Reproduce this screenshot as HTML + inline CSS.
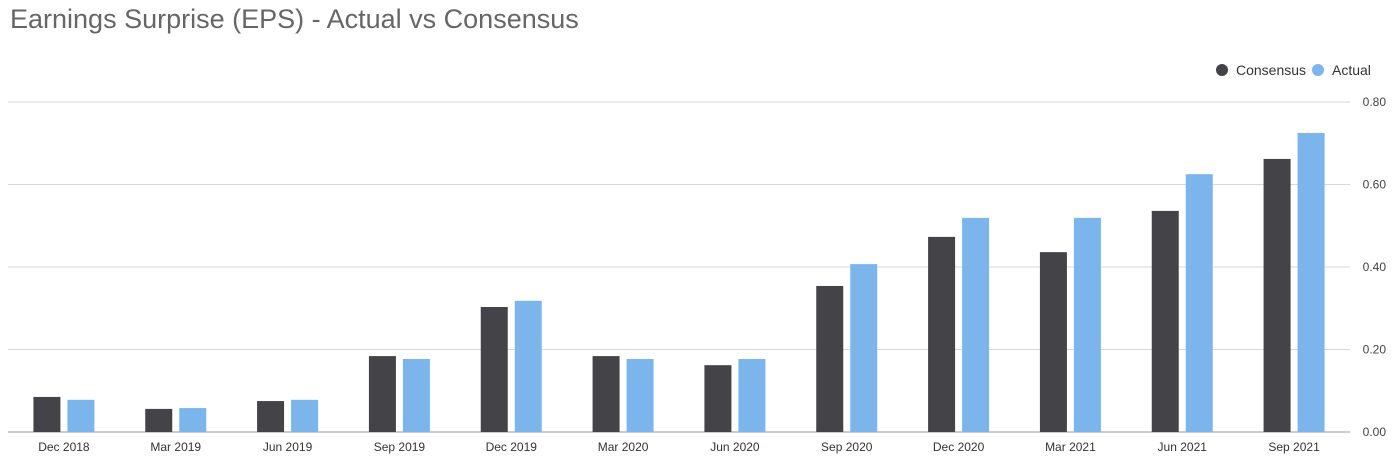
<!DOCTYPE html>
<html><head><meta charset="utf-8">
<style>
body{margin:0;background:#fff;font-family:"Liberation Sans",sans-serif;}
#wrap{position:relative;width:1400px;height:463px;overflow:hidden;}
h1{position:absolute;left:10px;top:4px;margin:0;font-weight:normal;font-size:27px;color:#666;}
</style></head><body>
<div id="wrap">
<h1>Earnings Surprise (EPS) - Actual vs Consensus</h1>
<svg id="chart" width="1400" height="463" style="position:absolute;left:0;top:0"></svg>
</div>
<script>
const categories=["Dec 2018","Mar 2019","Jun 2019","Sep 2019","Dec 2019","Mar 2020","Jun 2020","Sep 2020","Dec 2020","Mar 2021","Jun 2021","Sep 2021"];
const consensus=[0.085,0.056,0.075,0.184,0.303,0.184,0.162,0.354,0.473,0.436,0.536,0.662];
const actual=[0.078,0.058,0.078,0.177,0.318,0.177,0.177,0.407,0.519,0.519,0.625,0.725];
const ticks=[0,0.2,0.4,0.6,0.8];
const tickLabels=["0.00","0.20","0.40","0.60","0.80"];
const svg=document.getElementById('chart');
const NS='http://www.w3.org/2000/svg';
const x0=8,x1=1350,yTop=102,yBot=432,yMax=0.8;
const y=v=>yBot-(v/yMax)*(yBot-yTop);
const step=(x1-x0)/categories.length;
const xc=i=>x0+step*(i+0.5);
function mk(t,a){const e=document.createElementNS(NS,t);for(const k in a)e.setAttribute(k,a[k]);svg.appendChild(e);return e;}
ticks.forEach((t,i)=>{
 const l=mk('line',{x1:x0,x2:x1,y1:y(t),y2:y(t),stroke:i==0?'#999':'#d8d8d8','stroke-width':1});
 
 
 const tx=mk('text',{x:1386,y:y(t)+4,'font-size':12,fill:'#444','text-anchor':'end'});
 tx.textContent=tickLabels[i];
 
 
});
const bw=27,gap=7;
categories.forEach((c,i)=>{
 const cx=xc(i);
 const b1=mk('rect',{x:cx-gap/2-bw,y:y(consensus[i]),width:bw,height:yBot-y(consensus[i]),fill:'#434348'});
 
 
 const b2=mk('rect',{x:cx+gap/2,y:y(actual[i]),width:bw,height:yBot-y(actual[i]),fill:'#7cb5ec'});
 
 
 const t=mk('text',{x:cx,y:451,'font-size':12,fill:'#333','text-anchor':'middle'});
 t.textContent=c;
 
 
});
[[1222,'#434348','Consensus'],[1318,'#7cb5ec','Actual']].forEach(([lx,col,lab])=>{
 const g=document.createElementNS(NS,'g');svg.appendChild(g);
 
 
 const c=document.createElementNS(NS,'circle');c.setAttribute('cx',lx);c.setAttribute('cy',70);c.setAttribute('r',6);c.setAttribute('fill',col);g.appendChild(c);
 const t=document.createElementNS(NS,'text');t.setAttribute('x',lx+14);t.setAttribute('y',75);t.setAttribute('font-size',14);t.setAttribute('fill','#333');t.textContent=lab;g.appendChild(t);
});
</script>
</body></html>
